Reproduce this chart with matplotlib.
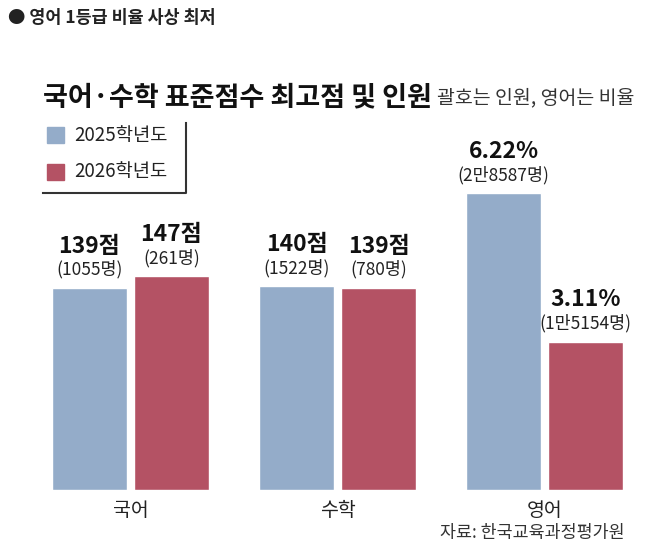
import numpy as np
import matplotlib.pyplot as plt
from matplotlib.patches import Rectangle
from matplotlib.lines import Line2D

plt.rcParams['font.family'] = ['Noto Sans CJK KR', 'DejaVu Sans']

# data
subjects = ['국어', '수학', '영어']
years = ['2025학년도', '2026학년도']
score_2025 = [139, 140]          # 국어, 수학 standard score max
score_2026 = [147, 139]
count_2025 = ['1055명', '1522명']
count_2026 = ['261명', '780명']
eng_ratio = [6.22, 3.11]         # 영어 1등급 비율 (%)
eng_count = ['2만8587명', '1만5154명']

blue = '#94acc9'
red = '#b45264'

W, H = 663, 549
fig = plt.figure(figsize=(W / 100, H / 100), dpi=100)

def fx(px):
    return px / W

def fy(py):
    return 1 - py / H

# main axes: bars bottom at y=490px, top of axes at 130px
ax = fig.add_axes([0, fy(490), 1, (490 - 130) / H])
ax2 = ax.twinx()

x = np.arange(len(subjects))
bw = 0.362
off = 0.198

b1 = ax.bar(x[:2] - off, score_2025, bw, color=blue, edgecolor='white', linewidth=1)
b2 = ax.bar(x[:2] + off, score_2026, bw, color=red, edgecolor='white', linewidth=1)
e1 = ax2.bar([x[2] - off, x[2] + off], eng_ratio, bw, color=[blue, red],
             edgecolor='white', linewidth=1)

ax.set_xlim(-0.630, 2.571)
ax.set_ylim(0, 247.4)
ax2.set_ylim(0, 7.547)

for a in (ax, ax2):
    for s in a.spines.values():
        s.set_visible(False)
    a.set_yticks([])
ax.set_xticks(x)
ax.set_xticklabels(subjects, fontsize=14, color='#222')
ax.tick_params(axis='x', length=0, pad=7)

def label(a, bar, big, small):
    cx = bar.get_x() + bar.get_width() / 2
    top = bar.get_height()
    a.annotate(small, (cx, top), xytext=(0, 13), textcoords='offset points',
               ha='center', va='center', fontsize=12.5, color='#222')
    a.annotate(big, (cx, top), xytext=(0, 30), textcoords='offset points',
               ha='center', va='center', fontsize=16.5, fontweight='bold', color='#111')

for bar, v, c in zip(b1, score_2025, count_2025):
    label(ax, bar, f'{v}점', f'({c})')
for bar, v, c in zip(b2, score_2026, count_2026):
    label(ax, bar, f'{v}점', f'({c})')
for bar, v, c in zip(e1, eng_ratio, eng_count):
    label(ax2, bar, f'{v:.2f}%', f'({c})')

# header and titles
fig.text(fx(8), fy(18), '● 영어 1등급 비율 사상 최저', fontsize=12.5,
         fontweight='bold', color='#222', va='center')
fig.text(fx(43), fy(97), '국어·수학 표준점수 최고점 및 인원', fontsize=19.5,
         fontweight='bold', color='#111', va='center')
fig.text(fx(437), fy(98), '괄호는 인원, 영어는 비율', fontsize=14,
         color='#333', va='center')

# legend
for i, (yr, col) in enumerate(zip(years, [blue, red])):
    yc = 135 + i * 37
    fig.patches.append(Rectangle((fx(47), fy(yc + 8)), 17 / W, 16 / H,
                                 transform=fig.transFigure, color=col))
    fig.text(fx(74), fy(yc), yr, fontsize=13.5, color='#222', va='center')
fig.add_artist(Line2D([fx(43), fx(186), fx(186)], [fy(193), fy(193), fy(123)],
                      transform=fig.transFigure, color='#333', linewidth=1.5))

fig.text(fx(625), fy(533), '자료: 한국교육과정평가원', fontsize=12.5,
         color='#333', ha='right', va='center')

fig.savefig('out.png', dpi=100)
